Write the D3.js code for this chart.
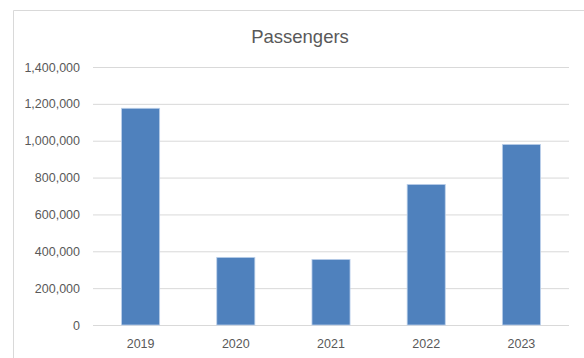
<!DOCTYPE html>
<html><head><meta charset="utf-8">
<script src="https://cdn.jsdelivr.net/npm/d3@7"></script>
<style>body{margin:0;background:#fff}svg{display:block}</style>
</head><body>
<svg id="c" width="584" height="358"></svg>
<script>
const categories = ["2019","2020","2021","2022","2023"];
const passengers = [1176000, 367000, 356000, 763000, 980000];
const yTicks = [0,200000,400000,600000,800000,1000000,1200000,1400000];
const title = "Passengers";

const svg = d3.select("#c");
const font = "'Liberation Sans', Arial, sans-serif";
const m = {left:93, right:15, top:67, bottom:33};
const W = 584, H = 358;

// chart border
svg.append("path").attr("d","M13.5,360 V10.5 H590").attr("fill","none").attr("stroke","#d9d9d9").attr("stroke-width",1);

const x = d3.scaleBand().domain(categories).range([m.left, W - m.right]).paddingInner(0.6).paddingOuter(0.3);
const y = d3.scaleLinear().domain([0,1400000]).range([H - m.bottom, m.top]);

const yAxis = svg.append("g").attr("transform",`translate(${m.left},0)`)
  .call(d3.axisLeft(y).tickValues(yTicks).tickSize(-(W - m.right - m.left)).tickPadding(13).tickFormat(d3.format(",")));
yAxis.select(".domain").remove();
yAxis.selectAll(".tick line").attr("stroke","#d9d9d9").attr("stroke-width",1);
yAxis.selectAll(".tick text").attr("fill","#595959").style("font-family",font).style("font-size","12.5px");

svg.append("g").selectAll("rect").data(categories).join("rect")
  .attr("x", d => x(d)).attr("width", x.bandwidth())
  .attr("y", (d,i) => y(passengers[i])).attr("height", (d,i) => y(0) - y(passengers[i]))
  .attr("fill","#4f81bd").attr("stroke","#bcd0ea").attr("stroke-width",0.8);

const xAxis = svg.append("g").attr("transform",`translate(0,${y(0)})`)
  .call(d3.axisBottom(x).tickSize(0).tickPadding(14));
xAxis.select(".domain").remove();
xAxis.selectAll(".tick text").attr("fill","#595959").style("font-family",font).style("font-size","12.5px");

svg.append("text").attr("x",300).attr("y",43).attr("text-anchor","middle")
  .attr("fill","#595959").style("font-family",font).style("font-size","18.5px").text(title);
</script>
</body></html>
